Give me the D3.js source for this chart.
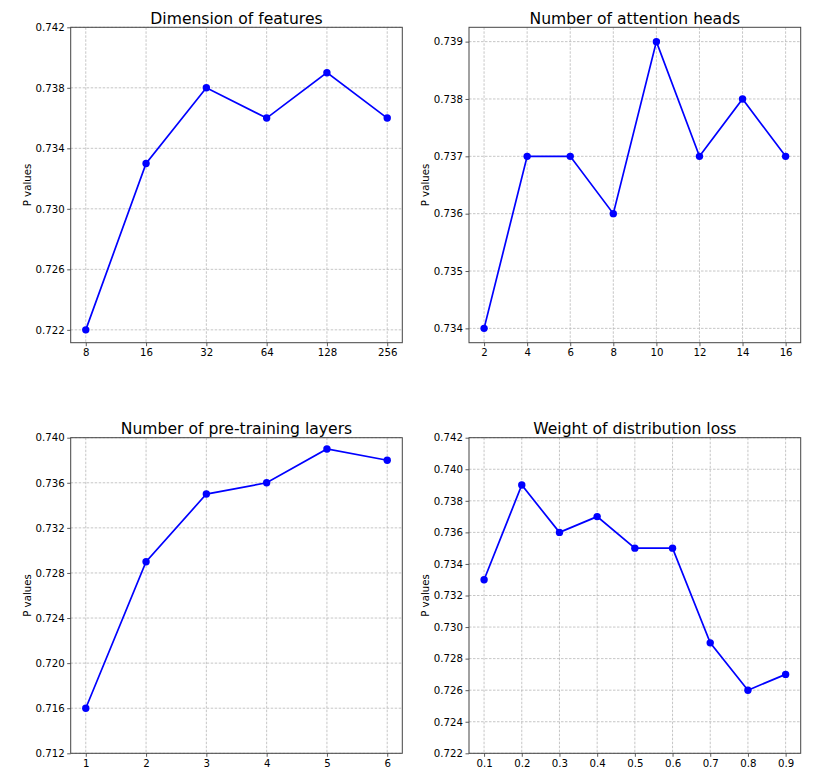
<!DOCTYPE html>
<html><head><meta charset="utf-8">
<script src="https://cdn.jsdelivr.net/npm/d3@7"></script>
<style>body{margin:0;background:#fff}svg{display:block}text{font-family:"DejaVu Sans",sans-serif;fill:#000}</style>
</head><body>
<script>
// Panel 1: Dimension of features
const featDims = ["8","16","32","64","128","256"];
const featVals = [0.722,0.733,0.738,0.736,0.739,0.736];
const featTicks = [0.722,0.726,0.730,0.734,0.738,0.742];
// Panel 2: Number of attention heads
const heads = [2,4,6,8,10,12,14,16];
const headVals = [0.734,0.737,0.737,0.736,0.739,0.737,0.738,0.737];
const headTicks = [0.734,0.735,0.736,0.737,0.738,0.739];
// Panel 3: Number of pre-training layers
const layers = [1,2,3,4,5,6];
const layerVals = [0.716,0.729,0.735,0.736,0.739,0.738];
const layerTicks = [0.712,0.716,0.720,0.724,0.728,0.732,0.736,0.740];
// Panel 4: Weight of distribution loss
const weights = [0.1,0.2,0.3,0.4,0.5,0.6,0.7,0.8,0.9];
const weightVals = [0.733,0.739,0.736,0.737,0.735,0.735,0.729,0.726,0.727];
const weightTicks = [0.722,0.724,0.726,0.728,0.730,0.732,0.734,0.736,0.738,0.740,0.742];

const W=830,H=777;
const svg=d3.select("body").append("svg").attr("width",W).attr("height",H);

const panels=[
 {title:"Dimension of features", x:featDims.map((d,i)=>i), xlab:featDims, xdom:[-0.25,5.25], y:featVals, ydom:[0.72115,0.742], yt:featTicks, fmt:d3.format(".3f"), box:[70.7,27.3,402.3,342.7]},
 {title:"Number of attention heads", x:heads, xlab:heads.map(String), xdom:[1.3,16.7], y:headVals, ydom:[0.73375,0.73925], yt:headTicks, fmt:d3.format(".3f"), box:[469,27.3,800.7,342.7]},
 {title:"Number of pre-training layers", x:layers, xlab:layers.map(String), xdom:[0.75,6.25], y:layerVals, ydom:[0.712,0.740], yt:layerTicks, fmt:d3.format(".3f"), box:[70.7,437.7,402.3,753.3]},
 {title:"Weight of distribution loss", x:weights, xlab:weights.map(String), xdom:[0.06,0.94], y:weightVals, ydom:[0.722,0.742], yt:weightTicks, fmt:d3.format(".3f"), box:[469,437.7,800.7,753.3]}
];

panels.forEach(p=>{
  const [x0,y0,x1,y1]=p.box;
  const xs=d3.scaleLinear().domain(p.xdom).range([x0,x1]);
  const ys=d3.scaleLinear().domain(p.ydom).range([y1,y0]);
  const g=svg.append("g");
  // grid
  g.append("g").selectAll("line").data(p.x).join("line")
    .attr("x1",d=>xs(d)).attr("x2",d=>xs(d)).attr("y1",y0).attr("y2",y1)
    .attr("stroke","#b8b8b8").attr("stroke-width",0.8).attr("stroke-dasharray","2.5,1.5");
  g.append("g").selectAll("line").data(p.yt).join("line")
    .attr("x1",x0).attr("x2",x1).attr("y1",d=>ys(d)).attr("y2",d=>ys(d))
    .attr("stroke","#b8b8b8").attr("stroke-width",0.8).attr("stroke-dasharray","2.5,1.5");
  // axes
  const xa=d3.axisBottom(xs).tickValues(p.x).tickFormat((d,i)=>p.xlab[i]).tickSize(3.5).tickPadding(2.5);
  const ga=g.append("g").attr("transform",`translate(0,${y1})`).call(xa);
  ga.select(".domain").remove();
  ga.selectAll("text").attr("font-size",10.2).attr("font-family","DejaVu Sans");
  ga.selectAll("line").attr("stroke","#333").attr("stroke-width",0.8);
  const ya=d3.axisLeft(ys).tickValues(p.yt).tickFormat(p.fmt).tickSize(3.5).tickPadding(2.5);
  const gy=g.append("g").attr("transform",`translate(${x0},0)`).call(ya);
  gy.select(".domain").remove();
  gy.selectAll("text").attr("font-size",10.2).attr("font-family","DejaVu Sans");
  gy.selectAll("line").attr("stroke","#333").attr("stroke-width",0.8);
  // frame
  g.append("rect").attr("x",x0).attr("y",y0).attr("width",x1-x0).attr("height",y1-y0)
    .attr("fill","none").attr("stroke","#444").attr("stroke-width",1);
  // line + markers
  const pts=p.x.map((d,i)=>[d,p.y[i]]);
  g.append("path").datum(pts).attr("fill","none").attr("stroke","#0000ff").attr("stroke-width",1.7)
    .attr("d",d3.line().x(d=>xs(d[0])).y(d=>ys(d[1])));
  g.append("g").selectAll("circle").data(pts).join("circle")
    .attr("cx",d=>xs(d[0])).attr("cy",d=>ys(d[1])).attr("r",3.7).attr("fill","#0000ff");
  // title
  g.append("text").attr("x",(x0+x1)/2).attr("y",y0-3.4).attr("text-anchor","middle")
    .attr("font-size",15.6).text(p.title);
  // y label
  const lx = x0-43.5;
  g.append("text").attr("transform",`translate(${lx},${(y0+y1)/2}) rotate(-90)`)
    .attr("text-anchor","middle").attr("dy","0.35em").attr("font-size",10.2).text("P values");
});
</script>
</body></html>
